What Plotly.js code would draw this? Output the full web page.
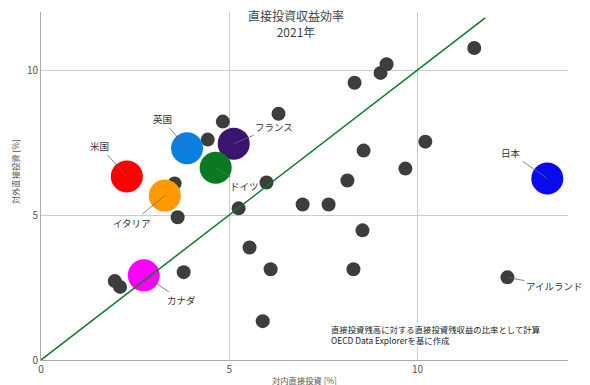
<!DOCTYPE html>
<html>
<head>
<meta charset="utf-8">
<script src="https://cdn.plot.ly/plotly-3.0.1.min.js"></script>
<style>html,body{margin:0;padding:0;background:#fff;}#chart{width:590px;height:385px;}</style>
</head>
<body>
<div id="chart"></div>
<script>
// G7 countries (highlighted)
const g7Names = ['米国', '英国', 'フランス', 'ドイツ', 'イタリア', 'カナダ', '日本'];
const g7X = [2.28, 3.88, 5.12, 4.64, 3.29, 2.73, 13.45];
const g7Y = [6.33, 7.30, 7.46, 6.63, 5.67, 2.92, 6.26];
const g7Colors = ['#ff0000', '#0a7fe0', '#3b1470', '#0a7a22', '#ff9900', '#ff00ff', '#0a0af0'];

// Other OECD countries
const otherX = [4.83, 4.43, 6.31, 5.99, 3.55, 11.51, 9.18, 9.02, 8.33, 10.21, 8.57, 9.68, 8.14, 6.95, 7.64, 8.54, 8.30, 12.39, 5.25, 3.63, 5.54, 6.10, 3.79, 1.96, 2.10, 5.89];
const otherY = [8.22, 7.60, 8.49, 6.12, 6.09, 10.76, 10.20, 9.90, 9.56, 7.53, 7.22, 6.60, 6.19, 5.36, 5.36, 4.47, 3.13, 2.85, 5.23, 4.92, 3.88, 3.13, 3.03, 2.72, 2.52, 1.34];

// Ireland label
const irelandName = 'アイルランド';
const irelandX = 12.39, irelandY = 2.85;

// reference line y = x
const lineX = [0, 11.8];
const lineY = [0, 11.8];

// label offsets (pixels)
const labelAx = [-27, -25, 40, 29, -33, 38, -36];
const labelAy = [-30, -29, -17, 18, 27, 25, -25];

const titleText = '直接投資収益効率<br>2021年';
const noteText = '直接投資残高に対する直接投資残収益の比率として計算<br>OECD Data Explorerを基に作成';
const xTitle = '対内直接投資 [%]';
const yTitle = '対外直接投資 [%]';

const font = '"Noto Sans CJK JP", "Noto Sans", sans-serif';

const traces = [
  {
    x: otherX, y: otherY, type: 'scatter', mode: 'markers',
    marker: {size: 14, color: '#3d3d3d'}, hoverinfo: 'skip'
  },
  {
    x: g7X, y: g7Y, type: 'scatter', mode: 'markers', text: g7Names,
    marker: {size: 32, color: g7Colors}, hoverinfo: 'text'
  },
  {
    x: lineX, y: lineY, type: 'scatter', mode: 'lines',
    line: {color: '#0a7a28', width: 1.5}, hoverinfo: 'skip'
  }
];

const labelFont = {family: font, size: 9.5, color: '#333'};
const annotations = g7Names.map((n, i) => ({
  x: g7X[i], y: g7Y[i], xref: 'x', yref: 'y', text: n,
  showarrow: true, arrowhead: 0, arrowwidth: 0.8, arrowcolor: '#666',
  ax: labelAx[i], ay: labelAy[i], standoff: 0,
  font: labelFont
}));
annotations.push({
  x: irelandX, y: irelandY, xref: 'x', yref: 'y', text: irelandName,
  showarrow: true, arrowhead: 0, arrowwidth: 0.8, arrowcolor: '#666',
  ax: 47, ay: 9, standoff: 0,
  font: labelFont
});
annotations.push({
  xref: 'paper', yref: 'paper', x: 0.548, y: 0.108, xanchor: 'left', yanchor: 'top',
  align: 'left', showarrow: false, bgcolor: '#ffffff', borderpad: 0,
  text: noteText,
  font: {family: font, size: 8.4, color: '#222'}
});
annotations.push({
  xref: 'paper', yref: 'paper', x: 0.5, y: -0.057, xanchor: 'center', yanchor: 'middle',
  showarrow: false, text: xTitle,
  font: {family: font, size: 8.3, color: '#555'}
});
annotations.push({
  xref: 'paper', yref: 'paper', x: -0.049, y: 0.54, xanchor: 'center', yanchor: 'middle',
  showarrow: false, text: yTitle, textangle: -90,
  font: {family: font, size: 8.3, color: '#555'}
});
// chart title
annotations.push({
  xref: 'paper', yref: 'paper', x: 0.484, y: 0.967, xanchor: 'center', yanchor: 'middle',
  showarrow: false, text: titleText, align: 'center', bgcolor: '#ffffff', borderpad: 0,
  font: {family: font, size: 12, color: '#444'}
});

const layout = {
  width: 590, height: 385,
  margin: {l: 41, r: 22, t: 12, b: 25},
  paper_bgcolor: '#fff', plot_bgcolor: '#fff',
  showlegend: false,
  xaxis: {
    range: [0, 14], tickvals: [0, 5, 10], ticktext: ['0', '5', '10'],
    showgrid: true, gridcolor: '#cccccc', gridwidth: 1,
    zeroline: false, showline: true, linecolor: '#aaaaaa', linewidth: 1,
    ticks: '', tickfont: {family: font, size: 10, color: '#555'}, fixedrange: true
  },
  yaxis: {
    range: [0, 12], tickvals: [0, 5, 10], ticktext: ['0', '5', '10'],
    showgrid: true, gridcolor: '#cccccc', gridwidth: 1,
    zeroline: false, showline: true, linecolor: '#aaaaaa', linewidth: 1,
    ticks: '', tickfont: {family: font, size: 10, color: '#555'}, fixedrange: true
  },
  annotations: annotations
};

Plotly.newPlot('chart', traces, layout, {displayModeBar: false, staticPlot: true});
</script>
</body>
</html>
